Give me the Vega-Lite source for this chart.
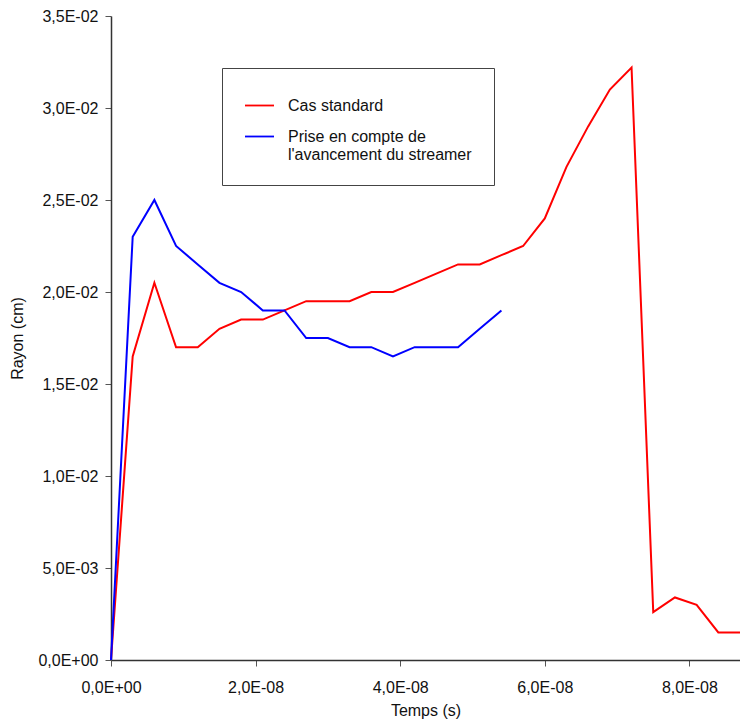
{
  "$schema": "https://vega.github.io/schema/vega-lite/v6.json",
  "width": 629,
  "height": 644,
  "autosize": {"type": "none"},
  "padding": {"left": 111, "top": 16, "right": 0, "bottom": 64},
  "background": "white",
  "config": {
    "view": {"stroke": null},
    "font": "Liberation Sans",
    "axis": {
      "grid": false,
      "domainColor": "#333",
      "domainWidth": 1.5,
      "tickColor": "#555",
      "tickSize": 6,
      "labelFont": "Liberation Sans",
      "labelFontSize": 16,
      "labelColor": "#111",
      "titleFont": "Liberation Sans",
      "titleFontSize": 16,
      "titleFontWeight": "normal",
      "titleColor": "#111"
    }
  },
  "data": {
    "values": [
      {"t": 0, "r": 0, "serie": "Cas standard"},
      {"t": 3e-9, "r": 0.0165, "serie": "Cas standard"},
      {"t": 6e-9, "r": 0.0205, "serie": "Cas standard"},
      {"t": 9e-9, "r": 0.017, "serie": "Cas standard"},
      {"t": 1.2e-8, "r": 0.017, "serie": "Cas standard"},
      {"t": 1.5e-8, "r": 0.018, "serie": "Cas standard"},
      {"t": 1.8e-8, "r": 0.0185, "serie": "Cas standard"},
      {"t": 2.1e-8, "r": 0.0185, "serie": "Cas standard"},
      {"t": 2.4e-8, "r": 0.019, "serie": "Cas standard"},
      {"t": 2.7e-8, "r": 0.0195, "serie": "Cas standard"},
      {"t": 3.0e-8, "r": 0.0195, "serie": "Cas standard"},
      {"t": 3.3e-8, "r": 0.0195, "serie": "Cas standard"},
      {"t": 3.6e-8, "r": 0.02, "serie": "Cas standard"},
      {"t": 3.9e-8, "r": 0.02, "serie": "Cas standard"},
      {"t": 4.2e-8, "r": 0.0205, "serie": "Cas standard"},
      {"t": 4.5e-8, "r": 0.021, "serie": "Cas standard"},
      {"t": 4.8e-8, "r": 0.0215, "serie": "Cas standard"},
      {"t": 5.1e-8, "r": 0.0215, "serie": "Cas standard"},
      {"t": 5.4e-8, "r": 0.022, "serie": "Cas standard"},
      {"t": 5.7e-8, "r": 0.0225, "serie": "Cas standard"},
      {"t": 6.0e-8, "r": 0.024, "serie": "Cas standard"},
      {"t": 6.3e-8, "r": 0.0268, "serie": "Cas standard"},
      {"t": 6.6e-8, "r": 0.029, "serie": "Cas standard"},
      {"t": 6.9e-8, "r": 0.031, "serie": "Cas standard"},
      {"t": 7.2e-8, "r": 0.0322, "serie": "Cas standard"},
      {"t": 7.5e-8, "r": 0.0026, "serie": "Cas standard"},
      {"t": 7.8e-8, "r": 0.0034, "serie": "Cas standard"},
      {"t": 8.1e-8, "r": 0.003, "serie": "Cas standard"},
      {"t": 8.4e-8, "r": 0.0015, "serie": "Cas standard"},
      {"t": 8.7e-8, "r": 0.0015, "serie": "Cas standard"},
      {"t": 0, "r": 0, "serie": "Prise en compte de l'avancement du streamer"},
      {"t": 3e-9, "r": 0.023, "serie": "Prise en compte de l'avancement du streamer"},
      {"t": 6e-9, "r": 0.025, "serie": "Prise en compte de l'avancement du streamer"},
      {"t": 9e-9, "r": 0.0225, "serie": "Prise en compte de l'avancement du streamer"},
      {"t": 1.2e-8, "r": 0.0215, "serie": "Prise en compte de l'avancement du streamer"},
      {"t": 1.5e-8, "r": 0.0205, "serie": "Prise en compte de l'avancement du streamer"},
      {"t": 1.8e-8, "r": 0.02, "serie": "Prise en compte de l'avancement du streamer"},
      {"t": 2.1e-8, "r": 0.019, "serie": "Prise en compte de l'avancement du streamer"},
      {"t": 2.4e-8, "r": 0.019, "serie": "Prise en compte de l'avancement du streamer"},
      {"t": 2.7e-8, "r": 0.0175, "serie": "Prise en compte de l'avancement du streamer"},
      {"t": 3.0e-8, "r": 0.0175, "serie": "Prise en compte de l'avancement du streamer"},
      {"t": 3.3e-8, "r": 0.017, "serie": "Prise en compte de l'avancement du streamer"},
      {"t": 3.6e-8, "r": 0.017, "serie": "Prise en compte de l'avancement du streamer"},
      {"t": 3.9e-8, "r": 0.0165, "serie": "Prise en compte de l'avancement du streamer"},
      {"t": 4.2e-8, "r": 0.017, "serie": "Prise en compte de l'avancement du streamer"},
      {"t": 4.5e-8, "r": 0.017, "serie": "Prise en compte de l'avancement du streamer"},
      {"t": 4.8e-8, "r": 0.017, "serie": "Prise en compte de l'avancement du streamer"},
      {"t": 5.1e-8, "r": 0.018, "serie": "Prise en compte de l'avancement du streamer"},
      {"t": 5.4e-8, "r": 0.019, "serie": "Prise en compte de l'avancement du streamer"}
    ]
  },
  "mark": {"type": "line", "strokeWidth": 2, "clip": false},
  "encoding": {
    "x": {
      "field": "t",
      "type": "quantitative",
      "title": "Temps (s)",
      "scale": {"domain": [0, 8.7e-8], "nice": false, "zero": true},
      "axis": {
        "values": [0, 2e-8, 4e-8, 6e-8, 8e-8],
        "labelExpr": "replace(replace(replace(format(datum.value, '.1e'), '.', ','), 'e-', 'E-0'), 'e+', 'E+0')",
        "labelPadding": 13,
        "titlePadding": 7,
        "labelFlush": false
      }
    },
    "y": {
      "field": "r",
      "type": "quantitative",
      "title": "Rayon (cm)",
      "scale": {"domain": [0, 0.035], "nice": false},
      "axis": {
        "values": [0, 0.005, 0.01, 0.015, 0.02, 0.025, 0.03, 0.035],
        "labelExpr": "replace(replace(replace(format(datum.value, '.1e'), '.', ','), 'e-', 'E-0'), 'e+', 'E+0')",
        "labelPadding": 7,
        "titlePadding": 12,
        "labelFlush": false
      }
    },
    "color": {
      "field": "serie",
      "type": "nominal",
      "scale": {
        "domain": ["Cas standard", "Prise en compte de l'avancement du streamer"],
        "range": ["#ff0000", "#0000ff"]
      },
      "legend": {
        "title": null,
        "orient": "none",
        "legendX": 111,
        "legendY": 52,
        "fillColor": "white",
        "strokeColor": "#444",
        "padding": 22,
        "symbolType": "stroke",
        "symbolSize": 841,
        "symbolStrokeWidth": 1.8,
        "labelFont": "Liberation Sans",
        "labelFontSize": 16,
        "labelColor": "#111",
        "labelOffset": 13,
        "labelLimit": 400,
        "rowPadding": 7,
        "labelExpr": "datum.label == 'Cas standard' ? datum.label : ['Prise en compte de', 'l\\'avancement du streamer  ']"
      }
    }
  }
}
